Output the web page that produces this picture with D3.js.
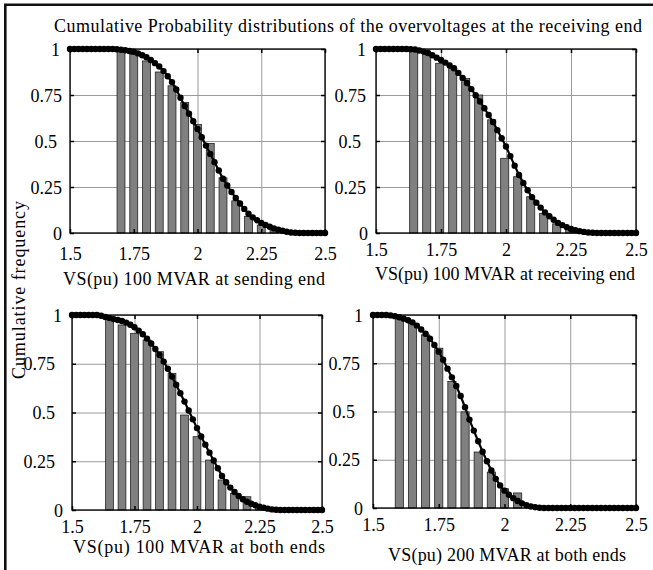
<!DOCTYPE html>
<html><head><meta charset="utf-8">
<script src="https://cdn.jsdelivr.net/npm/d3@7"></script>
<style>
body{margin:0;background:#fff;}
svg{display:block;font-family:"Liberation Serif","Times New Roman",serif;}
</style></head><body>
<svg id="c" width="653" height="570"></svg>
<script>
// ---------- data ----------
const chartTitle = "Cumulative Probability distributions of the overvoltages at the receiving end";
const yAxisTitle = "Cumulative frequency";
const panelTitles = ["VS(pu) 100 MVAR at sending end","VS(pu) 100 MVAR at receiving end","VS(pu) 100 MVAR at both ends","VS(pu) 200 MVAR at both ends"];
const xTicks = [1.5, 1.75, 2, 2.25, 2.5];
const yTicks = [0, 0.25, 0.5, 0.75, 1];
const xTickLabels = ["1.5","1.75","2","2.25","2.5"];
const yTickLabels = ["0","0.25","0.5","0.75","1"];

// sampling grid of the fitted cumulative curves (pu)
const voltageGrid = [1.5,1.5167,1.5333,1.55,1.5667,1.5833,1.6,1.6167,1.6333,1.65,1.6667,1.6833,1.7,1.7167,1.7333,1.75,1.7667,1.7833,1.8,1.8167,1.8333,1.85,1.8667,1.8833,1.9,1.9167,1.9333,1.95,1.9667,1.9833,2.0,2.0167,2.0333,2.05,2.0667,2.0833,2.1,2.1167,2.1333,2.15,2.1667,2.1833,2.2,2.2167,2.2333,2.25,2.2667,2.2833,2.3,2.3167,2.3333,2.35,2.3667,2.3833,2.4,2.4167,2.4333,2.45,2.4667,2.4833,2.5];

// fitted curves
const curveSending = [1,1,1,1,1,1,1,1,1,1,1,0.999,0.996,0.993,0.989,0.985,0.976,0.966,0.955,0.94,0.923,0.905,0.88,0.852,0.82,0.78,0.735,0.69,0.648,0.607,0.565,0.52,0.475,0.43,0.385,0.34,0.295,0.258,0.223,0.19,0.16,0.131,0.105,0.085,0.069,0.055,0.044,0.034,0.025,0.018,0.012,0.007,0.003,0.001,0,0,0,0,0,0,0];
const curveReceiving = [1,1,1,1,1,1,1,1,0.999,0.997,0.992,0.986,0.978,0.966,0.953,0.94,0.926,0.911,0.895,0.87,0.843,0.815,0.782,0.749,0.715,0.678,0.641,0.603,0.559,0.515,0.47,0.418,0.366,0.315,0.272,0.232,0.195,0.165,0.138,0.112,0.091,0.072,0.055,0.043,0.032,0.022,0.015,0.01,0.006,0.003,0.001,0,0,0,0,0,0,0,0,0,0];
const curveBoth100 = [1,1,1,1,1,1,1,0.996,0.99,0.984,0.979,0.974,0.969,0.961,0.95,0.937,0.92,0.901,0.879,0.854,0.826,0.795,0.761,0.724,0.684,0.642,0.599,0.556,0.51,0.465,0.42,0.377,0.335,0.294,0.254,0.214,0.175,0.142,0.115,0.092,0.072,0.055,0.042,0.032,0.024,0.017,0.012,0.007,0.003,0.001,0,0,0,0,0,0,0,0,0,0,0];
const curveBoth200 = [1,1,1,1,0.998,0.994,0.988,0.981,0.973,0.962,0.945,0.925,0.903,0.877,0.845,0.81,0.768,0.722,0.677,0.632,0.58,0.522,0.458,0.401,0.346,0.292,0.242,0.194,0.151,0.117,0.09,0.069,0.051,0.036,0.024,0.014,0.008,0.004,0.001,0,0,0,0,0,0,0,0,0,0,0,0,0,0,0,0,0,0,0,0,0,0];

// histogram bars (bin centre, cumulative frequency)
const binsSending = [1.7,1.75,1.8,1.85,1.9,1.95,2.0,2.05,2.1,2.15,2.2,2.25,2.3];
const barsSending = [0.995,0.97,0.935,0.875,0.80,0.71,0.59,0.487,0.30,0.175,0.09,0.043,0.016];
const binsReceiving = [1.645,1.695,1.745,1.795,1.845,1.895,1.945,1.995,2.045,2.095,2.145,2.195,2.245];
const barsReceiving = [0.99,0.97,0.922,0.895,0.84,0.75,0.615,0.406,0.306,0.197,0.107,0.05,0.018];
const binsBoth100 = [1.65,1.7,1.75,1.8,1.85,1.9,1.95,2.0,2.05,2.1,2.15,2.2,2.25];
const barsBoth100 = [0.991,0.949,0.906,0.872,0.812,0.701,0.487,0.376,0.256,0.154,0.085,0.068,0.012];
const binsBoth200 = [1.6,1.65,1.7,1.75,1.8,1.85,1.9,1.95,2.0,2.05];
const barsBoth200 = [0.983,0.957,0.897,0.828,0.655,0.498,0.29,0.186,0.1,0.078];

// ---------- layout ----------
const layout = [
  {box:[70,325,49,233], tickBase:260, titleBase:285, titleCx:194, titleLen:262, pads:[8,8,13,8,10]},
  {box:[376,636,49,233], tickBase:256, titleBase:280, titleCx:505, titleLen:260, pads:[8,10,15,10,10]},
  {box:[72,322,315,510], tickBase:533, titleBase:553, titleCx:199, titleLen:252, pads:[9,17,17,17,10]},
  {box:[373,636,315,508], tickBase:531, titleBase:561, titleCx:507, titleLen:238, pads:[10,13,18,13,10]}
];
const series = [
  {curve:curveSending, bins:binsSending, bars:barsSending},
  {curve:curveReceiving, bins:binsReceiving, bars:barsReceiving},
  {curve:curveBoth100, bins:binsBoth100, bars:barsBoth100},
  {curve:curveBoth200, bins:binsBoth200, bars:barsBoth200}
];
const barWidth = 0.031;
const FS = 18;

const svg = d3.select("#c");
svg.append("rect").attr("width",653).attr("height",570).attr("fill","#fff");
svg.append("path").attr("d","M5.3,575V4.7H660").attr("fill","none").attr("stroke","#111").attr("stroke-width",2.6);

svg.append("text").attr("x",348).attr("y",32).attr("text-anchor","middle")
  .attr("font-size",FS).attr("fill","#000")
  .attr("textLength",588).attr("lengthAdjust","spacing").text(chartTitle);
svg.append("text").attr("transform","translate(25,290) rotate(-90)").attr("text-anchor","middle")
  .attr("font-size",FS).attr("fill","#000")
  .attr("textLength",178).attr("lengthAdjust","spacing").text(yAxisTitle);

layout.forEach((L, k) => {
  const [x0,x1,y0,y1] = L.box;
  const S = series[k];
  const x = d3.scaleLinear().domain([1.5,2.5]).range([x0,x1]);
  const y = d3.scaleLinear().domain([0,1]).range([y1,y0]);
  const g = svg.append("g");

  // grid
  const gx = g.append("g").attr("transform",`translate(0,${y1})`)
    .call(d3.axisBottom(x).tickValues(xTicks).tickSize(-(y1-y0)).tickFormat(""));
  const gy = g.append("g").attr("transform",`translate(${x0},0)`)
    .call(d3.axisLeft(y).tickValues(yTicks).tickSize(-(x1-x0)).tickFormat(""));
  [gx,gy].forEach(a => { a.select(".domain").remove(); a.selectAll("line").attr("stroke","#9a9a9a").attr("stroke-width",1); });

  // bars
  g.append("g").selectAll("rect").data(S.bins).join("rect")
    .attr("x", (c) => x(c - barWidth/2))
    .attr("width", (c) => x(c + barWidth/2) - x(c - barWidth/2))
    .attr("y", (c,i) => y(S.bars[i]))
    .attr("height", (c,i) => y(0) - y(S.bars[i]))
    .attr("fill","#808080").attr("stroke","#222").attr("stroke-width",0.8);

  // frame
  g.append("rect").attr("x",x0).attr("y",y0).attr("width",x1-x0).attr("height",y1-y0)
    .attr("fill","none").attr("stroke","#000").attr("stroke-width",1.3);

  // inward ticks
  const tk = [
    [d3.axisBottom(x).tickValues(xTicks), `translate(0,${y1})`],
    [d3.axisTop(x).tickValues(xTicks), `translate(0,${y0})`],
    [d3.axisLeft(y).tickValues(yTicks), `translate(${x0},0)`],
    [d3.axisRight(y).tickValues(yTicks), `translate(${x1},0)`]
  ];
  tk.forEach(([ax,tr]) => {
    const a = g.append("g").attr("transform",tr).call(ax.tickSize(-4).tickFormat(""));
    a.select(".domain").remove();
    a.selectAll("line").attr("stroke","#000").attr("stroke-width",1.5);
  });

  // tick labels
  const lx = g.append("g").attr("transform",`translate(0,${y1})`)
    .call(d3.axisBottom(x).tickValues(xTicks).tickSize(0).tickFormat((d,i)=>xTickLabels[i]));
  lx.select(".domain").remove();
  lx.attr("font-family",null).attr("font-size",FS);
  lx.selectAll("text").attr("y", L.tickBase - y1).attr("dy",0).attr("fill","#000");

  const ly = g.append("g").attr("transform",`translate(${x0},0)`)
    .call(d3.axisLeft(y).tickValues(yTicks).tickSize(0).tickFormat((d,i)=>yTickLabels[i]));
  ly.select(".domain").remove();
  ly.attr("font-family",null).attr("font-size",FS);
  ly.selectAll("text").attr("x",(d,i)=>-L.pads[i]).attr("dy","0.34em").attr("fill","#000");

  // axis title
  g.append("text").attr("x",L.titleCx).attr("y",L.titleBase).attr("text-anchor","middle")
    .attr("font-size",FS).attr("fill","#000")
    .attr("textLength",L.titleLen).attr("lengthAdjust","spacing").text(panelTitles[k]);

  // fitted curve with markers
  const line = d3.line().x((d,i)=>x(voltageGrid[i])).y(d=>y(d));
  g.append("path").datum(S.curve).attr("d",line).attr("fill","none").attr("stroke","#000").attr("stroke-width",2.2);
  g.append("g").selectAll("circle").data(S.curve).join("circle")
    .attr("cx",(d,i)=>x(voltageGrid[i])).attr("cy",d=>y(d)).attr("r",3.2).attr("fill","#000");
});
</script>
</body></html>
